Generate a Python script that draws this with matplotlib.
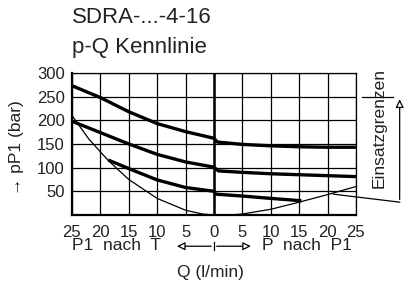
import matplotlib.pyplot as plt

plt.rcParams['font.family'] = ['Liberation Sans', 'DejaVu Sans']

# flow Q (l/min): negative = P1 nach T, positive = P nach P1
top_q = [-25, -20, -15, -10, -5, 0, 0.6, 5, 10, 15, 20, 25]
top_p = [273, 248, 218, 193, 176, 162, 154, 149, 146, 144, 143, 143]

mid_q = [-25, -20, -15, -10, -5, 0, 0.8, 5, 10, 15, 20, 25]
mid_p = [198, 174, 150, 128, 112, 101, 93, 90, 87, 85, 83, 81]

low_q = [-18.6, -15, -10, -5, 0, 0.3, 5, 10, 15.4]
low_p = [116, 98, 74, 58, 50, 44, 40, 35, 30]

lim_q = [-25, -22, -18.6, -15, -10, -5, -2, 0, 3, 5, 10, 15, 20, 25]
lim_p = [210, 160, 115, 75, 35, 10, 2, 0, 0, 2, 12, 27, 43, 60]

xticks = [-25, -20, -15, -10, -5, 0, 5, 10, 15, 20, 25]
xlabels = ['25', '20', '15', '10', '5', '0', '5', '10', '15', '20', '25']
yticks = [0, 50, 100, 150, 200, 250, 300]
ylabels = ['', '50', '100', '150', '200', '250', '300']

fig = plt.figure(figsize=(4.04, 2.87), dpi=100)
ax = fig.add_axes([0.178, 0.251, 0.703, 0.495])

ax.plot(top_q, top_p, color='black', lw=2.4, solid_capstyle='butt')
ax.plot(mid_q, mid_p, color='black', lw=2.4, solid_capstyle='butt')
ax.plot(low_q, low_p, color='black', lw=2.4, solid_capstyle='butt')
ax.plot(lim_q, lim_p, color='black', lw=0.9)
ax.axvline(0, color='black', lw=1.8)

ax.set_xlim(-25, 25)
ax.set_ylim(0, 300)
ax.set_xticks(xticks)
ax.set_xticklabels(xlabels)
ax.set_yticks(yticks)
ax.set_yticklabels(ylabels)
ax.tick_params(length=0, labelsize=12, colors='#222222')
ax.tick_params(axis='y', pad=5)
ax.tick_params(axis='x', pad=7)
ax.grid(True, color='black', lw=0.9)
for s in ax.spines.values():
    s.set_linewidth(0.9)
ax.spines['left'].set_linewidth(1.6)
ax.spines['bottom'].set_linewidth(1.6)

# titles
fig.text(0.178, 0.94, 'SDRA-...-4-16', fontsize=16, color='#222222', va='center')
fig.text(0.178, 0.833, 'p-Q Kennlinie', fontsize=16, color='#222222', va='center')

# y label
fig.text(0.04, 0.484, '\u2192 pP1 (bar)', rotation=90, fontsize=12.5,
         color='#222222', ha='center', va='center')

# below axis
fig.text(0.178, 0.143, 'P1  nach  T', fontsize=12.5, color='#222222', va='center')
fig.text(0.871, 0.143, 'P  nach  P1', fontsize=12.5, color='#222222', va='center', ha='right')
fig.text(0.522, 0.049, 'Q (l/min)', fontsize=12.5, color='#222222', va='center', ha='center')
arrow = dict(arrowstyle='-|>', color='black', lw=0.9, fc='white', mutation_scale=12)
ax.annotate('', xy=(-7, -66), xytext=(0, -66), xycoords='data', arrowprops=arrow,
            annotation_clip=False)
ax.annotate('', xy=(7, -66), xytext=(0, -66), xycoords='data', arrowprops=arrow,
            annotation_clip=False)
ax.plot([0, 0], [-57, -75], color='black', lw=0.9, clip_on=False)

# Einsatzgrenzen marker
fig.text(0.938, 0.554, 'Einsatzgrenzen', rotation=90, fontsize=12.5,
         color='#222222', ha='center', va='center')
ax.plot([26, 31.5], [250, 250], color='black', lw=0.9, clip_on=False)
ax.plot([21, 32.7], [44, 27], color='black', lw=0.9, clip_on=False)
ax.annotate('', xy=(32.7, 250), xytext=(32.7, 27), arrowprops=arrow,
            annotation_clip=False)

fig.savefig('out.png', dpi=100)
